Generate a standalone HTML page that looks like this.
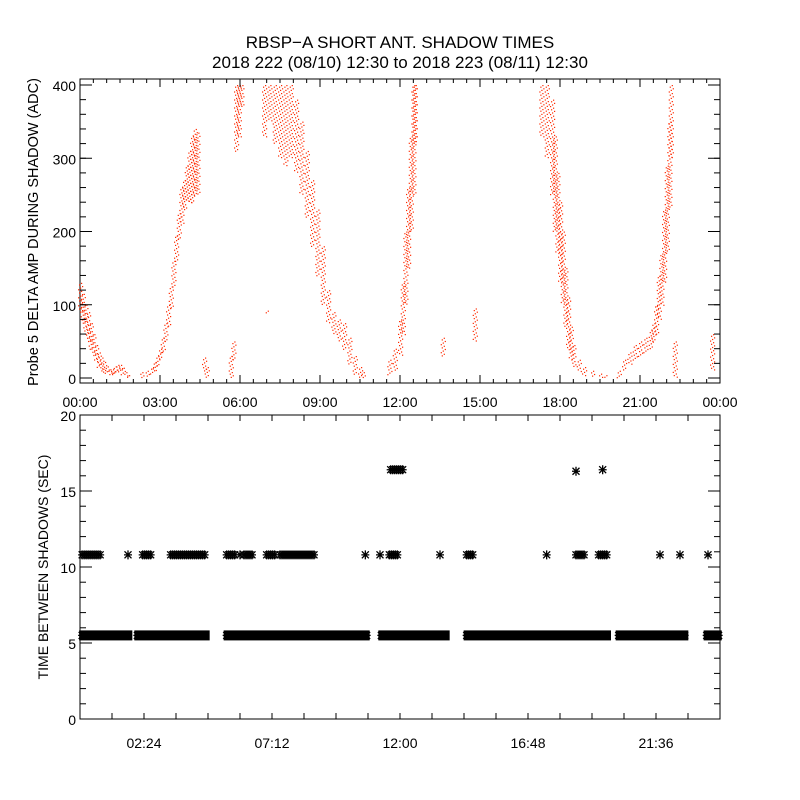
<!DOCTYPE html>
<html><head><meta charset="utf-8"><style>
body{margin:0;background:#fff}
svg{display:block}
text{font-family:"Liberation Sans",sans-serif;fill:#000}
</style></head><body>
<svg id="c" width="800" height="800" viewBox="0 0 800 800">
<rect width="800" height="800" fill="#fff"/>
<text x="400" y="48" font-size="17" text-anchor="middle">RBSP−A SHORT ANT. SHADOW TIMES</text>
<text x="400" y="68" font-size="17" text-anchor="middle">2018 222 (08/10) 12:30 to 2018 223 (08/11) 12:30</text>
<g id="topPanel"></g>
<g id="botPanel"></g>
</svg>
<script>
// Top panel: amplitude bands (hour, low, high)
const topHours = [0.0,0.1,0.2,0.3,0.4,0.5,0.6,0.7,0.8,0.9,1.0,1.1,1.2,1.3,1.4,1.5,1.6,1.7,1.8,
 2.3,2.5,2.7,2.8,2.9,3.0,3.1,3.2,3.3,3.4,3.5,3.6,3.7,3.8,3.9,4.0,4.1,4.2,4.3,4.4,
 4.65,4.75,5.65,5.75,5.85,5.95,6.05,
 6.9,7.0,7.1,7.3,7.5,7.7,7.9,8.1,8.3,8.5,8.7,8.9,9.1,9.3,9.5,9.7,9.9,10.1,10.3,10.5,10.6,
 11.6,11.8,12.0,12.1,12.2,12.3,12.4,12.5,12.55,13.6,14.8,
 17.3,17.5,17.7,17.8,17.9,18.0,18.1,18.2,18.3,18.4,18.5,18.7,18.9,19.2,19.5,19.7,
 20.2,20.4,20.6,20.8,21.0,21.2,21.4,21.5,21.6,21.7,21.8,21.9,22.0,22.1,22.15,22.3,23.7];
const topLow  = [90,75,60,50,40,30,22,15,10,8,6,5,5,7,8,8,5,2,0,
 0,2,5,10,15,25,35,50,70,95,125,160,190,210,230,240,240,240,250,250,
 10,0,0,25,310,330,370,
 330,88,350,320,300,290,300,280,250,220,180,140,100,75,60,50,40,20,5,0,0,
 5,10,30,60,100,150,200,250,320,30,50,
 330,300,250,200,170,130,100,70,40,25,15,8,4,2,0,0,
 0,10,18,25,30,35,40,50,60,80,100,130,170,230,300,0,10];
const topHigh = [130,115,100,90,75,60,45,35,28,22,16,12,12,16,18,18,14,8,4,
 8,10,15,22,30,40,55,75,100,125,160,195,225,260,270,290,310,330,340,335,
 28,15,30,50,400,400,400,
 400,92,400,400,400,400,400,380,350,310,270,230,180,120,90,80,75,55,30,15,8,
 25,40,80,130,200,260,330,400,400,55,95,
 400,400,380,330,280,240,200,150,110,70,45,25,15,10,6,4,
 10,25,35,45,50,55,65,75,100,140,170,230,290,350,400,50,60];
// Bottom panel: asterisk runs (start hour, end hour, seconds)
const runStart = [0.08,2.15,5.5,11.3,14.5,20.2,23.5, 0.08,1.8,2.35,3.4,5.5,6.0,6.15,7.0,7.5,10.7,11.25,11.6,13.5,14.5,17.5,18.6,19.45,21.75,22.5,23.55, 11.65,18.6,19.6];
const runEnd   = [1.85,4.75,10.75,13.75,19.8,22.7,23.95, 0.8,1.8,2.7,4.7,5.8,6.0,6.5,7.3,8.8,10.7,11.25,11.95,13.5,14.75,17.5,18.95,19.8,21.75,22.5,23.55, 12.1,18.6,19.6];
const runValue = [5.5,5.5,5.5,5.5,5.5,5.5,5.5, 10.8,10.8,10.8,10.8,10.8,10.8,10.8,10.8,10.8,10.8,10.8,10.8,10.8,10.8,10.8,10.8,10.8,10.8,10.8,10.8, 16.4,16.3,16.4];
const topXTicks = ["00:00","03:00","06:00","09:00","12:00","15:00","18:00","21:00","00:00"];
const topYTicks = [0,100,200,300,400];
const botXTicks = ["02:24","07:12","12:00","16:48","21:36"];
const botYTicks = [0,5,10,15,20];

const NS="http://www.w3.org/2000/svg";
function mk(parent,tag,attrs){const e=document.createElementNS(NS,tag);for(const k in attrs)e.setAttribute(k,attrs[k]);parent.appendChild(e);return e;}
const L=80,R=720;
const xh=h=>L+h/24*(R-L);
const yTop=v=>378-v*0.7325;
const yBot=v=>719-v*15.2;
const topG=document.getElementById('topPanel'), botG=document.getElementById('botPanel');

let fr=mk(topG,'rect',{x:80,y:79,width:640,height:304,fill:'none',stroke:'#000','stroke-width':1});


const dots=mk(topG,'g',{fill:'#ff2a00'});


for(let i=0;i<topHours.length;i++){
  const x=xh(topHours[i]);
  const y1=yTop(topHigh[i]), y2=yTop(topLow[i]);
  let k=0;
  for(let y=y1;y<=y2+0.01;y+=1.6){
    k++;
    const off=[-2,1,-1,2,0][k%5];
    const r=mk(dots,'rect',{x:(x+off).toFixed(1),y:Math.max(80,Math.min(380,y)).toFixed(1),width:1.2,height:1.2});
    
    
  }
}
topXTicks.forEach((t,i)=>{
  const x=L+i*80;
  mk(topG,'line',{x1:x,y1:383,x2:x,y2:375,stroke:'#000'});
  mk(topG,'line',{x1:x,y1:79,x2:x,y2:87,stroke:'#000'});
  const tx=mk(topG,'text',{x:x,y:407,'font-size':14,'text-anchor':'middle'});tx.textContent=t;
  
  
  if(i<8)for(let k=1;k<6;k++){const xm=x+k*80/6;mk(topG,'line',{x1:xm,y1:383,x2:xm,y2:379,stroke:'#000'});mk(topG,'line',{x1:xm,y1:79,x2:xm,y2:83,stroke:'#000'});}
});
topYTicks.forEach(v=>{
  const y=yTop(v);
  mk(topG,'line',{x1:80,y1:y,x2:92,y2:y,stroke:'#000'});
  mk(topG,'line',{x1:720,y1:y,x2:708,y2:y,stroke:'#000'});
  const tx=mk(topG,'text',{x:76,y:y+6,'font-size':14,'text-anchor':'end'});tx.textContent=v;
  
  
});
for(let v=0;v<=400;v+=20){const y=yTop(v);mk(topG,'line',{x1:80,y1:y,x2:86,y2:y,stroke:'#000'});mk(topG,'line',{x1:720,y1:y,x2:714,y2:y,stroke:'#000'});}
let yt=mk(topG,'text',{x:38,y:232,'font-size':14.5,'text-anchor':'middle',transform:'rotate(-90 38 232)'});yt.textContent='Probe 5 DELTA AMP DURING SHADOW (ADC)';



fr=mk(botG,'rect',{x:80,y:415,width:640,height:304,fill:'none',stroke:'#000'});


for(let i=0;i<=20;i++){const x=L+i*32;mk(botG,'line',{x1:x,y1:719,x2:x,y2:713,stroke:'#000'});mk(botG,'line',{x1:x,y1:415,x2:x,y2:421,stroke:'#000'});}
botXTicks.forEach((t,i)=>{
  const x=L+(2*i+1)*64;
  const tx=mk(botG,'text',{x:x,y:748,'font-size':14,'text-anchor':'middle'});tx.textContent=t;
  
  
});
for(let v=0;v<=20;v++){const y=yBot(v);const len=v%5==0?12:6;mk(botG,'line',{x1:80,y1:y,x2:80+len,y2:y,stroke:'#000'});mk(botG,'line',{x1:720,y1:y,x2:720-len,y2:y,stroke:'#000'});}
botYTicks.forEach(v=>{
  const y=yBot(v);
  const tx=mk(botG,'text',{x:76,y:y+6,'font-size':14,'text-anchor':'end'});tx.textContent=v;
  
  
});
yt=mk(botG,'text',{x:48,y:567,'font-size':14,'text-anchor':'middle',transform:'rotate(-90 48 567)'});yt.textContent='TIME BETWEEN SHADOWS (SEC)';


const stars=mk(botG,'g',{stroke:'#000','stroke-width':1.3});


function star(cx,cy){
  const g=mk(stars,'path',{d:`M${cx-4},${cy}H${cx+4}M${cx},${cy-4.5}V${cy+4.5}M${cx-3.5},${cy-3.5}L${cx+3.5},${cy+3.5}M${cx-3.5},${cy+3.5}L${cx+3.5},${cy-3.5}`});
  
  
}
for(let i=0;i<runStart.length;i++){
  const x1=xh(runStart[i]),x2=xh(runEnd[i]),y=yBot(runValue[i]);
  if(runValue[i]<8){
    const b=mk(stars,'rect',{x:x1-3,y:y-5,width:x2-x1+6,height:10,fill:'#000',stroke:'none'});
    
    
  }
  for(let x=x1;x<=x2+0.01;x+=2)star(x,y);
}
</script>
</body></html>
